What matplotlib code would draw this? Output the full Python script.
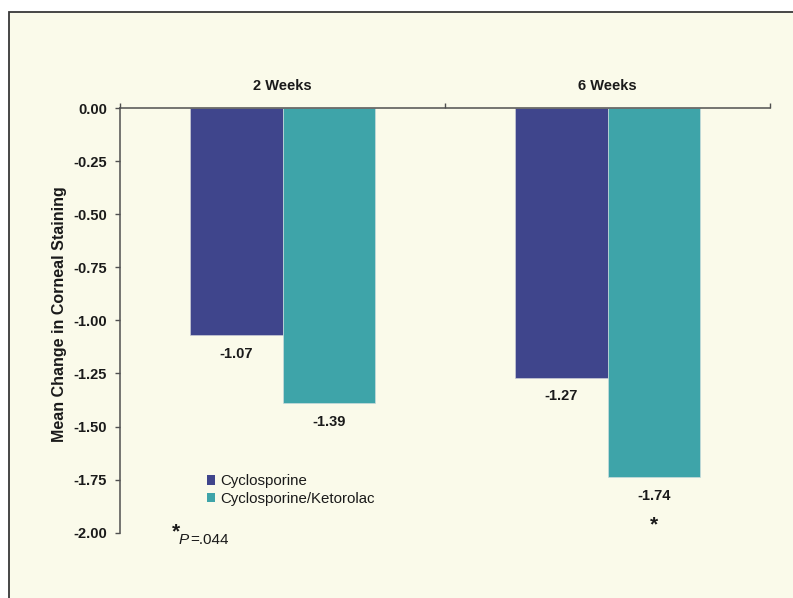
import matplotlib
matplotlib.use("Agg")
import matplotlib.pyplot as plt
from matplotlib.patches import Rectangle, Patch
import numpy as np

plt.rcParams['font.family'] = ['Liberation Sans', 'DejaVu Sans']
plt.rcParams['axes.unicode_minus'] = False

# ---- data ----
categories = ["2 Weeks", "6 Weeks"]
series_names = ["Cyclosporine", "Cyclosporine/Ketorolac"]
cyclosporine = [-1.07, -1.27]
cyclo_ketorolac = [-1.39, -1.74]
y_ticks = [0.00, -0.25, -0.50, -0.75, -1.00, -1.25, -1.50, -1.75, -2.00]
y_label = "Mean Change in Corneal Staining"
p_note = "=.044"
significant = [False, True]  # Cyclosporine/Ketorolac significance marker

# ---- style ----
W, H = 793, 598
BG = '#fafaea'
C1 = '#3f458c'
C2 = '#3ea4a9'
AX = '#505050'
TXT = '#1a1a1a'

fig = plt.figure(figsize=(W / 100, H / 100), dpi=100, facecolor='white')

# cream panel with frame (extends past right and bottom edges)
fig.patches.append(Rectangle((8.7 / W, -0.05), 1.2, (H - 12) / H + 0.05,
                             transform=fig.transFigure, facecolor=BG,
                             edgecolor='#383838', linewidth=1.3, zorder=-10))

ax_l, ax_r = 120 / W, 770 / W
ax_t, ax_b = 1 - 108 / H, 1 - 532.7 / H
ax = fig.add_axes([ax_l, ax_b, ax_r - ax_l, ax_t - ax_b])
ax.set_facecolor('none')

x = np.arange(len(categories))
bw = 0.286
ax.bar(x - bw / 2, cyclosporine, bw, color=C1, edgecolor='#c9cbd6', linewidth=0.5, label=series_names[0], zorder=2)
ax.bar(x + bw / 2, cyclo_ketorolac, bw, color=C2, edgecolor='#c9dcdc', linewidth=0.5, label=series_names[1], zorder=2)

ax.set_xlim(-0.5, len(categories) - 0.5)
ax.set_ylim(-2.0, 0.0)

# spines
for s in ['bottom', 'right']:
    ax.spines[s].set_visible(False)
for s in ['top', 'left']:
    ax.spines[s].set_color(AX)
    ax.spines[s].set_linewidth(1.1)

ax.set_yticks(y_ticks)
ax.set_yticklabels([f"{v:.2f}" for v in y_ticks], fontsize=10.5, fontweight='bold', color=TXT)
ax.tick_params(axis='y', direction='out', length=3.5, width=1.0, color=AX, pad=6)

ax.xaxis.tick_top()
ax.set_xticks(np.arange(len(categories) + 1) - 0.5)
ax.set_xticklabels([])
ax.tick_params(axis='x', direction='out', length=3.5, width=1.0, color=AX)

# category labels
for xi, c in zip(x, categories):
    ax.text(xi, 0.104, c, ha='center', va='center', fontsize=10.5, fontweight='bold', color=TXT)

# value labels
for xi, v in zip(x, cyclosporine):
    ax.text(xi - bw / 2, v - 0.087, f"{v:.2f}", ha='center', va='center', fontsize=10.5, fontweight='bold', color=TXT)
for xi, v, sig in zip(x, cyclo_ketorolac, significant):
    ax.text(xi + bw / 2, v - 0.087, f"{v:.2f}", ha='center', va='center', fontsize=10.5, fontweight='bold', color=TXT)
    if sig:
        ax.text(xi + bw / 2, v - 0.225, "*", ha='center', va='center', fontsize=15, fontweight='bold', color=TXT)

# y label
fig.text(60 / W, 1 - 314.5 / H, y_label, rotation=90, ha='center', va='center',
         fontsize=11.5, fontweight='bold', color=TXT)

# legend
leg = ax.legend(handles=[Patch(facecolor=C1), Patch(facecolor=C2)], labels=series_names,
                loc='upper left', bbox_to_anchor=(206.5 / W, 1 - 474 / H),
                bbox_transform=fig.transFigure, frameon=False, fontsize=10.8,
                handlelength=0.58, handleheight=0.63, handletextpad=0.33,
                labelspacing=0.25, borderpad=0, borderaxespad=0)
for t in leg.get_texts():
    t.set_color(TXT)

# p-value note
fig.text(172 / W, 1 - 532 / H, "*", ha='left', va='center', fontsize=15, fontweight='bold', color=TXT)
fig.text(179 / W, 1 - 544 / H, "P", ha='left', va='baseline', fontsize=11, style='italic', color=TXT)
fig.text(190 / W, 1 - 544 / H, p_note, ha='left', va='baseline', fontsize=11, color=TXT)

fig.savefig("out.png", dpi=100, facecolor='white')
